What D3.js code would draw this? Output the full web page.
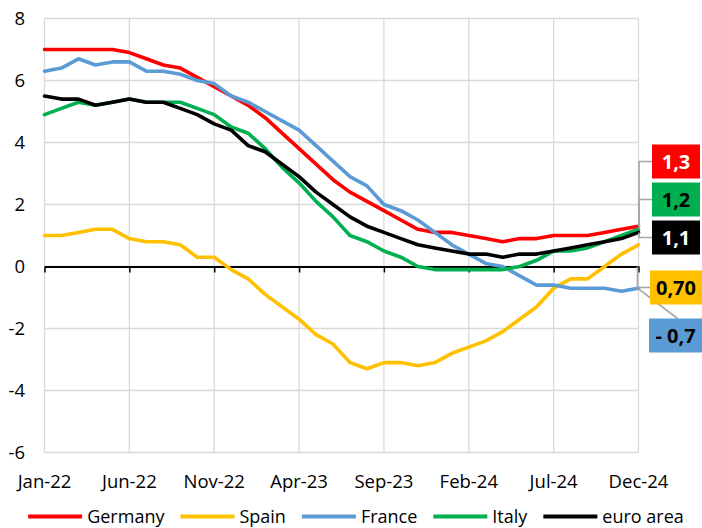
<!DOCTYPE html>
<html><head><meta charset="utf-8">
<script src="https://cdn.jsdelivr.net/npm/d3@7"></script>
<style>
body{margin:0;background:#fff}
svg{display:block}
text{font-family:"Open Sans",sans-serif}
</style>
</head><body><svg id="c" width="702" height="528"></svg>
<script>
const months = ["Jan-22","Feb-22","Mar-22","Apr-22","May-22","Jun-22","Jul-22","Aug-22","Sep-22","Oct-22","Nov-22","Dec-22",
  "Jan-23","Feb-23","Mar-23","Apr-23","May-23","Jun-23","Jul-23","Aug-23","Sep-23","Oct-23","Nov-23","Dec-23",
  "Jan-24","Feb-24","Mar-24","Apr-24","May-24","Jun-24","Jul-24","Aug-24","Sep-24","Oct-24","Nov-24","Dec-24"];
const germany = [7.0,7.0,7.0,7.0,7.0,6.9,6.7,6.5,6.4,6.1,5.8,5.5,
  5.2,4.8,4.3,3.8,3.3,2.8,2.4,2.1,1.8,1.5,1.2,1.1,
  1.1,1.0,0.9,0.8,0.9,0.9,1.0,1.0,1.0,1.1,1.2,1.3];
const spain = [1.0,1.0,1.1,1.2,1.2,0.9,0.8,0.8,0.7,0.3,0.3,-0.1,
  -0.4,-0.9,-1.3,-1.7,-2.2,-2.5,-3.1,-3.3,-3.1,-3.1,-3.2,-3.1,
  -2.8,-2.6,-2.4,-2.1,-1.7,-1.3,-0.7,-0.4,-0.4,0.0,0.4,0.7];
const france = [6.3,6.4,6.7,6.5,6.6,6.6,6.3,6.3,6.2,6.0,5.9,5.5,
  5.3,5.0,4.7,4.4,3.9,3.4,2.9,2.6,2.0,1.8,1.5,1.1,
  0.7,0.4,0.1,0.0,-0.3,-0.6,-0.6,-0.7,-0.7,-0.7,-0.8,-0.7];
const italy = [4.9,5.1,5.3,5.2,5.3,5.4,5.3,5.3,5.3,5.1,4.9,4.5,
  4.3,3.8,3.2,2.7,2.1,1.6,1.0,0.8,0.5,0.3,0.0,-0.1,
  -0.1,-0.1,-0.1,-0.1,0.0,0.2,0.5,0.5,0.6,0.8,1.0,1.2];
const euroArea = [5.5,5.4,5.4,5.2,5.3,5.4,5.3,5.3,5.1,4.9,4.6,4.4,
  3.9,3.7,3.3,2.9,2.4,2.0,1.6,1.3,1.1,0.9,0.7,0.6,
  0.5,0.4,0.4,0.3,0.4,0.4,0.5,0.6,0.7,0.8,0.9,1.1];
const seriesNames = ["Germany","Spain","France","Italy","euro area"];
const seriesValues = [germany, spain, france, italy, euroArea];
const seriesColors = ["#FF0000","#FFC000","#5B9BD5","#00B050","#000000"];
const endLabels = ["1,3","0,70","- 0,7","1,2","1,1"];
const endLabelTextColors = ["#FFFFFF","#000000","#000000","#000000","#FFFFFF"];
const xTickLabels = ["Jan-22","Jun-22","Nov-22","Apr-23","Sep-23","Feb-24","Jul-24","Dec-24"];
const yTickValues = [-6,-4,-2,0,2,4,6,8];

const svg = d3.select("#c");
svg.append("rect").attr("width",702).attr("height",528).attr("fill","#fff");
const x = d3.scalePoint().domain(months).range([44.5, 638.5]);
const y = d3.scaleLinear().domain([-6, 8]).range([452.5, 18.5]);
const L = 44.5, R = 638.5;
const FS = 18.5;

// grid
const grid = svg.append("g").attr("stroke","#D9D9D9").attr("stroke-width",1.3);
yTickValues.forEach(v => grid.append("line").attr("x1",L).attr("x2",R).attr("y1",y(v)).attr("y2",y(v)));
xTickLabels.forEach(m => grid.append("line").attr("x1",x(m)).attr("x2",x(m)).attr("y1",y(8)).attr("y2",y(-6)));

// zero axis with ticks
const zeroAxis = d3.axisBottom(x).tickValues(xTickLabels).tickSize(6).tickSizeOuter(0).tickFormat("");
const za = svg.append("g").attr("transform",`translate(0,${y(0)})`).call(zeroAxis);
za.select(".domain").attr("stroke","#000").attr("stroke-width",2);
za.selectAll(".tick line").attr("stroke","#000").attr("stroke-width",1.5);

// y labels
svg.append("g").selectAll("text").data(yTickValues).join("text")
  .attr("x",25).attr("y",d=>y(d)).attr("dy","0.36em").attr("text-anchor","end")
  .attr("font-size",FS).attr("fill","#000").text(d=>d);

// x labels
svg.append("g").selectAll("text").data(xTickLabels).join("text")
  .attr("x",d=>x(d)).attr("y",481).attr("dy","0.36em").attr("text-anchor","middle")
  .attr("font-size",FS).attr("fill","#000").text(d=>d);

// lines
const line = d3.line().x((d,i)=>x(months[i])).y(d=>y(d));
seriesValues.forEach((vals,k) => {
  svg.append("path").attr("d",line(vals)).attr("fill","none")
    .attr("stroke",seriesColors[k]).attr("stroke-width",3.6)
    .attr("stroke-linejoin","round").attr("stroke-linecap","round");
});

// end labels (layout offsets so boxes do not overlap)
const lastX = x(months[months.length-1]);
const labelDy = [-64.7, 42.7, 47.3, -29.8, 5.1];
const boxX = [652, 650, 649, 652, 652];
const boxW = [48, 52, 53, 48, 48];
const boxH = 34;
const lead = svg.append("g").attr("stroke","#A6A6A6").attr("stroke-width",1.6).attr("fill","none");
seriesValues.forEach((vals,k) => {
  const v = vals[vals.length-1];
  const py = y(v);
  const cy = py + labelDy[k];
  if (k === 2) {
    lead.append("line").attr("x1",lastX-1).attr("y1",py).attr("x2",boxX[k]+boxW[k]/2+2).attr("y2",cy-boxH/2);
  } else if (k === 1) {
    lead.append("polyline").attr("points",`${boxX[k]},${cy} ${lastX-1},${cy} ${lastX-1},${y(0)}`);
  } else {
    lead.append("polyline").attr("points",`${boxX[k]},${cy} ${lastX+0.5},${cy} ${lastX+0.5},${py}`);
  }
});
seriesValues.forEach((vals,k) => {
  const v = vals[vals.length-1];
  const cy = y(v) + labelDy[k];
  svg.append("rect").attr("x",boxX[k]).attr("y",cy-boxH/2).attr("width",boxW[k]).attr("height",boxH)
    .attr("fill",seriesColors[k]);
  svg.append("text").attr("x",boxX[k]+boxW[k]/2).attr("y",cy).attr("dy","0.36em")
    .attr("text-anchor","middle").attr("font-size",20).attr("font-weight","bold")
    .attr("fill",endLabelTextColors[k]).text(endLabels[k]);
});

// legend
const leg = svg.append("g");
let cx = 0;
seriesNames.forEach((n,k) => {
  const g = leg.append("g").attr("transform",`translate(${cx},0)`);
  g.append("line").attr("x1",0).attr("x2",54).attr("y1",0).attr("y2",0)
    .attr("stroke",seriesColors[k]).attr("stroke-width",4);
  const t = g.append("text").attr("x",59).attr("y",0).attr("dy","0.36em")
    .attr("font-size",18).attr("fill","#000").text(n);
  const w = t.node().getComputedTextLength();
  cx += 59 + w + 16;
});
const total = cx - 16;
leg.attr("transform",`translate(${356 - total/2},516.5)`);
</script>
</body></html>
